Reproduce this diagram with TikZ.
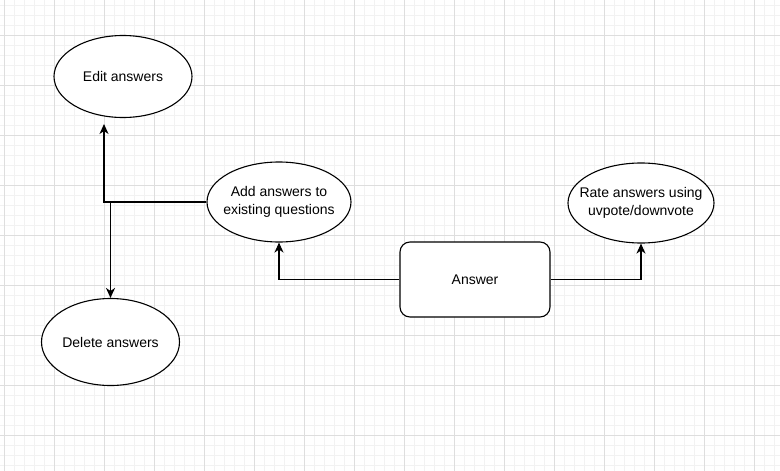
\documentclass[tikz,border=0pt]{standalone}
\usepackage{fontspec}
\setmainfont{Liberation Sans}
\usetikzlibrary{arrows.meta,shapes.geometric}
\definecolor{gridminor}{HTML}{F2F2F2}
\definecolor{gridmajor}{HTML}{DEDEDE}
\begin{document}
\begin{tikzpicture}[x=1pt,y=-1pt,
  uc/.style={ellipse,draw=black,line width=1.1pt,fill=white,inner sep=0pt},
  txt/.style={align=center,font=\fontsize{14}{17.7}\selectfont,inner sep=0pt},
  box/.style={rectangle,rounded corners=10pt,draw=black,line width=1.1pt,fill=white,minimum width=150pt,minimum height=75pt,font=\fontsize{14}{17.7}\selectfont},
  conn/.style={line width=1.2pt,draw=black,-{Stealth[length=10pt,width=9pt,inset=3pt]}}]
\fill[white] (0,0) rectangle (780,471);
\useasboundingbox (0,0) rectangle (780,471);
% grid
\foreach \i in {0,...,77} {\draw[gridminor,line width=0.8pt] (4.3+10*\i,0) -- (4.3+10*\i,471);}
\foreach \j in {0,...,46} {\draw[gridminor,line width=0.8pt] (0,5+10*\j) -- (780,5+10*\j);}
\foreach \i in {0,...,15} {\draw[gridmajor,line width=0.8pt] (4.3+50*\i,0) -- (4.3+50*\i,471);}
\foreach \j in {0,...,8} {\draw[gridmajor,line width=0.8pt] (0,35+50*\j) -- (780,35+50*\j);}
% nodes
\node[uc,minimum width=138pt,minimum height=82pt] (edit) at (123,76.5) {};
\node[txt] at (edit) {Edit answers};
\node[uc,minimum width=144pt,minimum height=80pt] (add) at (279,202) {};
\node[txt] at (add) {Add answers to\\existing questions};
\node[uc,minimum width=138pt,minimum height=87pt] (del) at (110.5,342) {};
\node[txt] at (del) {Delete answers};
\node[uc,minimum width=146pt,minimum height=80pt] (rate) at (641,203) {};
\node[txt] at (rate) {Rate answers using\\uvpote/downvote};
\node[box] (ans) at (475,279.5) {Answer};
\coordinate (editIn) at (104,124);
% connectors
\draw[conn] (add.west) -| (editIn);
\draw[conn] (add.west) -| (del.north);
\draw[conn] (ans.west) -| (add.south);
\draw[conn] (ans.east) -| (rate.south);
\end{tikzpicture}
\end{document}
